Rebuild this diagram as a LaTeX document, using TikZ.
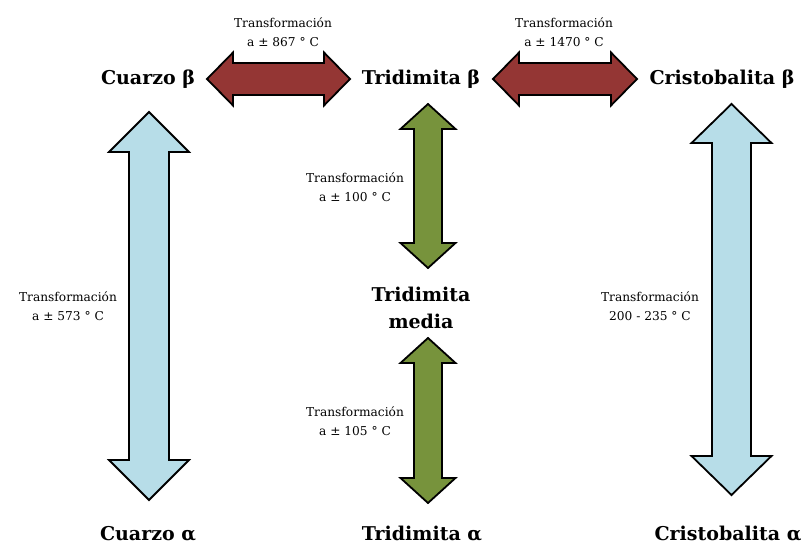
\documentclass[tikz,border=0pt]{standalone}
\usepackage{fontspec}
\setmainfont{DejaVu Serif}
\definecolor{redarrow}{HTML}{943634}
\definecolor{greenarrow}{HTML}{77933C}
\definecolor{bluearrow}{HTML}{B7DDE8}
\tikzset{
  blockarrow/.style={draw=black, line width=1.8pt, line join=miter},
  mineral/.style={font=\bfseries\fontsize{19}{27}\selectfont, align=center, inner sep=0pt},
  translabel/.style={font=\fontsize{12.2}{19}\selectfont, align=center, inner sep=0pt},
}
% vertical double block arrow: cx, ytop, ybot, head half width, shaft half width, head length
\newcommand\vdblarrow[7]{%
  \filldraw[blockarrow, fill=#7] (#1,#2) -- ({#1+#4},{#2+#6}) -- ({#1+#5},{#2+#6}) -- ({#1+#5},{#3-#6}) -- ({#1+#4},{#3-#6}) -- (#1,#3) -- ({#1-#4},{#3-#6}) -- ({#1-#5},{#3-#6}) -- ({#1-#5},{#2+#6}) -- ({#1-#4},{#2+#6}) -- cycle;}
% horizontal double block arrow: cy, xleft, xright, head half height, shaft half height, head length
\newcommand\hdblarrow[7]{%
  \filldraw[blockarrow, fill=#7] (#2,#1) -- ({#2+#6},{#1-#4}) -- ({#2+#6},{#1-#5}) -- ({#3-#6},{#1-#5}) -- ({#3-#6},{#1-#4}) -- (#3,#1) -- ({#3-#6},{#1+#4}) -- ({#3-#6},{#1+#5}) -- ({#2+#6},{#1+#5}) -- ({#2+#6},{#1+#4}) -- cycle;}
\begin{document}
\begin{tikzpicture}[x=1pt,y=-1pt]
\useasboundingbox (0,0) rectangle (809,545);

% minerals
\node[mineral] (cb) at (148,79) {Cuarzo β};
\node[mineral] (tb) at (421,79) {Tridimita β};
\node[mineral] (crb) at (722,79) {Cristobalita β};
\node[mineral] (tm) at (421,308) {Tridimita\\media};
\node[mineral] (ca) at (148,534) {Cuarzo α};
\node[mineral] (ta) at (422,534) {Tridimita α};
\node[mineral] (cra) at (728,534) {Cristobalita α};

% arrows
\hdblarrow{79}{207}{350}{26.5}{16}{26}{redarrow}
\hdblarrow{79}{493}{637}{26.5}{16}{26}{redarrow}
\vdblarrow{149}{112}{500}{40}{20}{40}{bluearrow}
\vdblarrow{731.5}{104}{495}{40}{19.5}{39}{bluearrow}
\vdblarrow{428}{104}{268}{27.5}{14}{25}{greenarrow}
\vdblarrow{428}{338}{503}{27.5}{14}{25}{greenarrow}

% transformation labels
\node[translabel] (l1) at (283,32) {Transformación\\a ± 867 °  C};
\node[translabel] (l2) at (564,32) {Transformación\\a ± 1470 °  C};
\node[translabel] (l3) at (68,306) {Transformación\\a ± 573 °  C};
\node[translabel] (l4) at (650,306) {Transformación\\200 - 235 °  C};
\node[translabel] (l5) at (355,187) {Transformación\\a ± 100 °  C};
\node[translabel] (l6) at (355,421) {Transformación\\a ± 105 °  C};
\end{tikzpicture}
\end{document}
